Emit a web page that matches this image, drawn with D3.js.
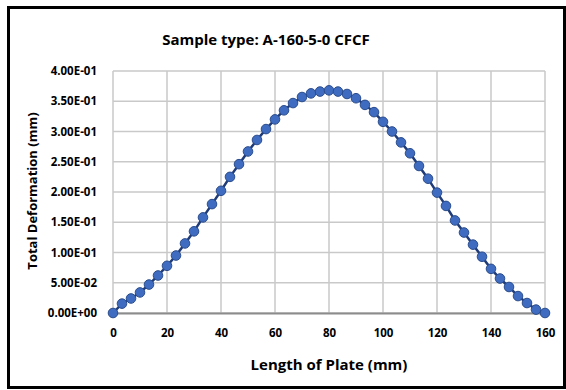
<!DOCTYPE html>
<html>
<head>
<meta charset="utf-8">
<script src="https://cdn.jsdelivr.net/npm/d3@7"></script>
<style>
  body { margin: 0; background: #fff; }
  svg text { font-family: "Open Sans", "Noto Sans", sans-serif; font-weight: bold; fill: #000; }
</style>
</head>
<body>
<svg id="chart" width="566" height="390"></svg>
<script>
// Length of plate (mm)
let lengths = [
  0, 3.33, 6.67, 10, 13.33, 16.67, 20, 23.33, 26.67, 30, 33.33, 36.67,
  40, 43.33, 46.67, 50, 53.33, 56.67, 60, 63.33, 66.67, 70, 73.33, 76.67,
  80, 83.33, 86.67, 90, 93.33, 96.67, 100, 103.33, 106.67, 110, 113.33, 116.67,
  120, 123.33, 126.67, 130, 133.33, 136.67, 140, 143.33, 146.67, 150, 153.33, 156.67,
  160
];

// Total deformation (mm)
let deformation = [
  0, 0.0155, 0.024, 0.034, 0.047, 0.062, 0.078, 0.095, 0.115, 0.135, 0.158, 0.18,
  0.202, 0.225, 0.246, 0.267, 0.286, 0.304, 0.32, 0.335, 0.347, 0.357, 0.363, 0.366,
  0.368, 0.366, 0.362, 0.355, 0.344, 0.332, 0.316, 0.3, 0.282, 0.264, 0.243, 0.222,
  0.199, 0.177, 0.153, 0.133, 0.113, 0.093, 0.073, 0.057, 0.043, 0.028, 0.0165, 0.0056,
  0
];

let xTicks = [0, 20, 40, 60, 80, 100, 120, 140, 160];
let yTicks = [0, 0.05, 0.1, 0.15, 0.2, 0.25, 0.3, 0.35, 0.4];

let svg = d3.select("#chart");

// outer frame
svg.append("rect")
  .attr("x", 8.5).attr("y", 7.5)
  .attr("width", 556).attr("height", 380)
  .attr("fill", "none")
  .attr("stroke", "#000")
  .attr("stroke-width", 3);

let margin = { left: 113, right: 545, top: 71, bottom: 313 };

let x = d3.scaleLinear().domain([0, 160]).range([margin.left, margin.right]);
let y = d3.scaleLinear().domain([0, 0.4]).range([margin.bottom, margin.top]);

// gridlines
svg.append("g")
  .selectAll("line")
  .data(xTicks)
  .enter()
  .append("line")
  .attr("x1", (d) => x(d)).attr("x2", (d) => x(d))
  .attr("y1", y(0)).attr("y2", y(0.4))
  .attr("stroke", "#c9c9c9")
  .attr("stroke-width", 1.5);

svg.append("g")
  .selectAll("line")
  .data(yTicks)
  .enter()
  .append("line")
  .attr("x1", x(0)).attr("x2", x(160))
  .attr("y1", (d) => y(d)).attr("y2", (d) => y(d))
  .attr("stroke", "#c9c9c9")
  .attr("stroke-width", 1.5);

// x axis
let xAxis = svg.append("g")
  .attr("transform", `translate(0,${y(0)})`)
  .call(d3.axisBottom(x).tickValues(xTicks).tickSize(0).tickPadding(16));
xAxis.select(".domain").attr("stroke", "#8c8c8c").attr("stroke-width", 2);
xAxis.selectAll("text").style("font-size", "11.5px").attr("fill", "#000");

// y axis
let yAxis = svg.append("g")
  .attr("transform", `translate(${x(0)},0)`)
  .call(
    d3.axisLeft(y)
      .tickValues(yTicks)
      .tickSize(0)
      .tickPadding(16)
      .tickFormat((d) => {
        let s = d.toExponential(2).toUpperCase();
        // 4.00E-1 -> 4.00E-01
        return s.replace(/E([+-])(\d)$/, "E$10$2");
      })
  );
yAxis.select(".domain").remove();
yAxis.selectAll("text").style("font-size", "11.5px").attr("fill", "#000");

// line
let line = d3.line()
  .x((d, i) => x(lengths[i]))
  .y((d) => y(d));

svg.append("path")
  .datum(deformation)
  .attr("d", line)
  .attr("fill", "none")
  .attr("stroke", "#1f3b78")
  .attr("stroke-width", 2.5);

// markers
svg.append("g")
  .selectAll("circle")
  .data(deformation)
  .enter()
  .append("circle")
  .attr("cx", (d, i) => x(lengths[i]))
  .attr("cy", (d) => y(d))
  .attr("r", 4.8)
  .attr("fill", "#3f6cc0")
  .attr("stroke", "#2a4c8c")
  .attr("stroke-width", 1);

// title
svg.append("text")
  .attr("x", 266)
  .attr("y", 45)
  .attr("text-anchor", "middle")
  .style("font-size", "15px")
  .text("Sample type: A-160-5-0 CFCF");

// axis titles
svg.append("text")
  .attr("x", 329)
  .attr("y", 370)
  .attr("text-anchor", "middle")
  .style("font-size", "15px")
  .text("Length of Plate (mm)");

svg.append("text")
  .attr("transform", "translate(37,191) rotate(-90)")
  .attr("text-anchor", "middle")
  .style("font-size", "13px")
  .text("Total Deformation (mm)");
</script>
</body>
</html>
